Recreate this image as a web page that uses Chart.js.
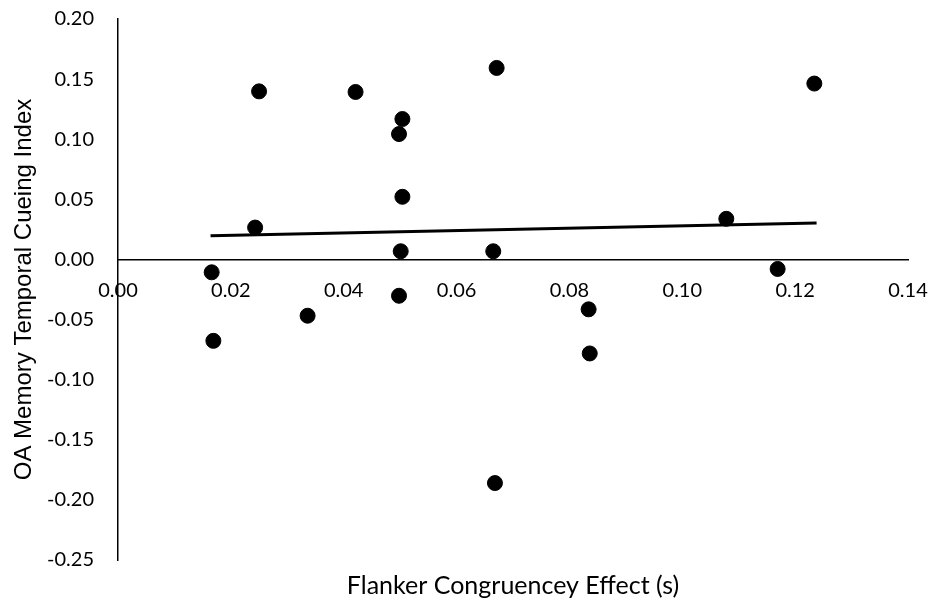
<!DOCTYPE html>
<html>
<head>
<meta charset="utf-8">
<script src="https://cdn.jsdelivr.net/npm/chart.js@4.4.1/dist/chart.umd.min.js"></script>
<style>
    html, body { margin: 0; padding: 0; background: #fff; }
    #wrap { width: 935px; height: 603px; }
</style>
</head>
<body>
<div id="wrap"><canvas id="flankerScatter"></canvas></div>
<script>
// values
var flankerEffect = [0.0166, 0.0169, 0.0243, 0.0250, 0.0336, 0.0421, 0.0498, 0.0504, 0.0504, 0.0501, 0.0498,
    0.0665, 0.0671, 0.0668, 0.0834, 0.0836, 0.1078, 0.1169, 0.1234];
var cueingIndex = [-0.0107, -0.0677, 0.0265, 0.1398, -0.0468, 0.1393, 0.1043, 0.1168, 0.0521, 0.0068, -0.0302,
    0.0068, 0.1593, -0.1860, -0.0415, -0.0782, 0.0338, -0.0079, 0.1463];
var trendX = [0.0164, 0.1238];
var trendY = [0.0198, 0.0304];
var xTicks = [0.00, 0.02, 0.04, 0.06, 0.08, 0.10, 0.12, 0.14];
var yTicks = [-0.25, -0.20, -0.15, -0.10, -0.05, 0.00, 0.05, 0.10, 0.15, 0.20];

var tickFont = { family: 'Lato', size: 20 };

function toPoints(xs, ys) {
    return xs.map(function (x, i) { return { x: x, y: ys[i] }; });
}
function fixedTicks(list) {
    return function (scale) {
        scale.ticks = list.map(function (v) { return { value: v }; });
    };
}
function fmt(v) {
    return (Math.round(v * 100) / 100).toFixed(2);
}

var ctx = document.getElementById("flankerScatter");
new Chart(ctx, {
    type: 'scatter',
    data: {
        datasets: [
            {
                label: 'Trend',
                data: toPoints(trendX, trendY),
                showLine: true,
                borderColor: '#000',
                borderWidth: 3,
                pointRadius: 0,
                fill: false
            },
            {
                label: 'OA',
                data: toPoints(flankerEffect, cueingIndex),
                backgroundColor: '#000',
                borderColor: '#000',
                borderWidth: 1,
                pointRadius: 7.5,
                pointHoverRadius: 7.5
            }
        ]
    },
    options: {
        responsive: true,
        maintainAspectRatio: false,
        animation: false,
        layout: {
            padding: { top: 19, right: 27, left: 0, bottom: 0 }
        },
        scales: {
            x: {
                type: 'linear',
                position: { y: 0 },
                min: 0,
                max: 0.14,
                afterBuildTicks: fixedTicks(xTicks),
                afterFit: function (scale) { scale.paddingLeft = 0; scale.paddingRight = 0; },
                grid: { display: false, drawTicks: false },
                border: { display: true, color: '#000', width: 1.5 },
                ticks: {
                    color: '#000',
                    font: tickFont,
                    padding: 19,
                    maxRotation: 0,
                    autoSkip: false,
                    callback: fmt
                }
            },
            y: {
                type: 'linear',
                position: 'left',
                min: -0.25,
                max: 0.20,
                afterBuildTicks: fixedTicks(yTicks),
                afterFit: function (scale) {
                    scale.width = 118;
                    scale.paddingTop = 0;
                    scale.paddingBottom = 0;
                },
                grid: { display: false, drawTicks: false },
                border: { display: true, color: '#000', width: 1.5 },
                ticks: {
                    color: '#000',
                    font: tickFont,
                    padding: 24,
                    autoSkip: false,
                    callback: fmt
                },
                title: {
                    display: true,
                    text: 'OA Memory Temporal Cueing Index',
                    color: '#000',
                    font: { family: 'Liberation Sans', size: 24 },
                    padding: { top: 10, bottom: 0 }
                }
            }
        },
        plugins: {
            legend: { display: false },
            tooltip: { enabled: false },
            title: {
                display: true,
                position: 'bottom',
                fullSize: false,
                text: 'Flanker Congruencey Effect (s)',
                color: '#000',
                font: { family: 'Lato', size: 25, weight: 'normal' },
                padding: { top: 11, bottom: 2 }
            }
        }
    }
});
</script>
</body>
</html>
